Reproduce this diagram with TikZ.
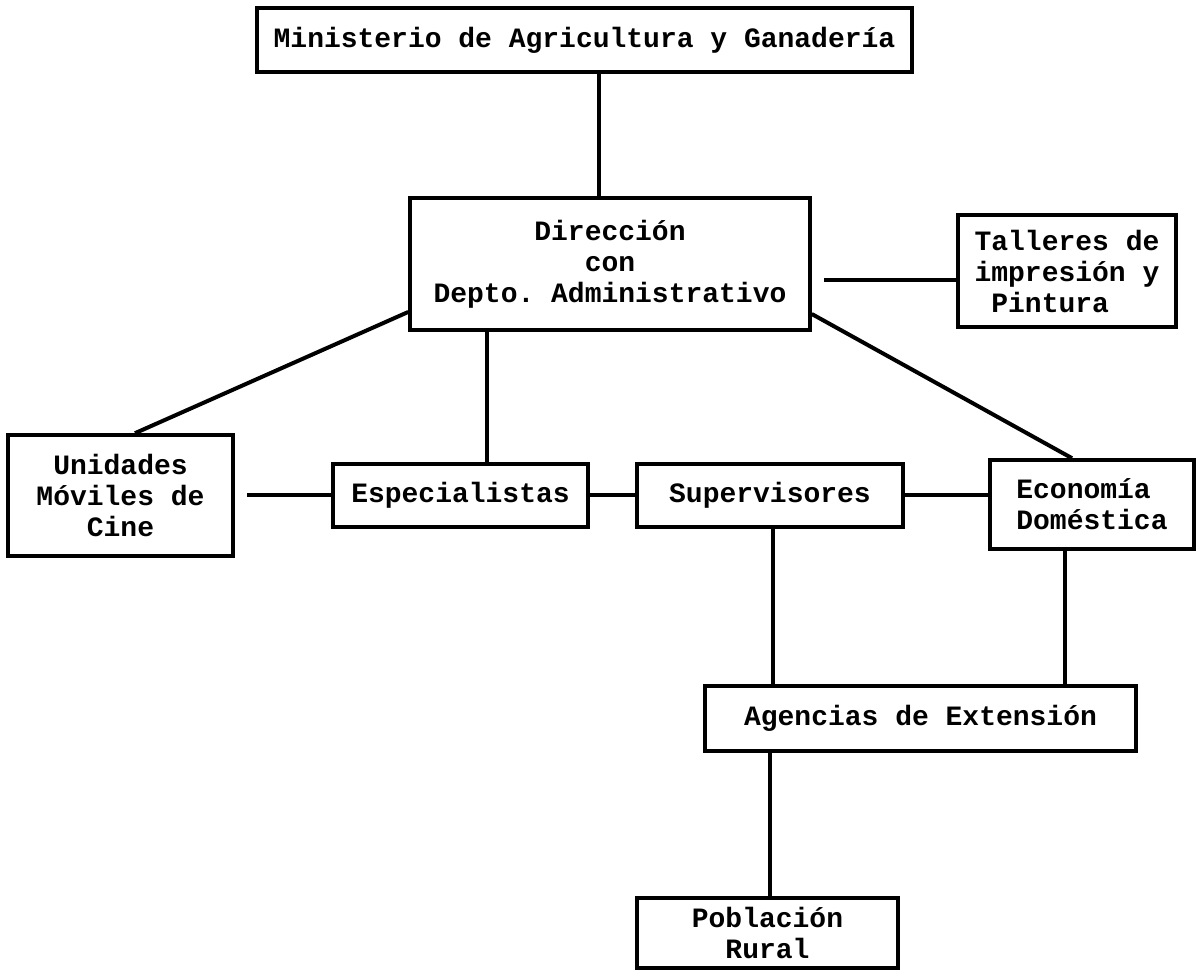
\documentclass[tikz,border=0pt]{standalone}
\usepackage{fontspec}
\setmonofont{Liberation Mono}
\begin{document}
\begin{tikzpicture}[x=0.5pt,y=-0.5pt,
  box/.style={draw,line width=1.8pt,inner sep=0pt,font=\ttfamily\bfseries\fontsize{14}{15.5}\selectfont},
  conn/.style={line width=2pt}]
\useasboundingbox (0,0) rectangle (1196,973);
\node[box,minimum width=327.5pt,minimum height=32pt] (min) at (584.5,40) {Ministerio de Agricultura y Ganadería};
\node[box,minimum width=200pt,minimum height=66pt,align=center] (dir) at (610,264) {Dirección\\con\\Depto. Administrativo};
\node[box,minimum width=109pt,minimum height=56pt,align=left] (tal) at (1067,271) {Talleres de\\impresión y\\\hspace*{0.6em}Pintura};
\node[box,minimum width=112.5pt,minimum height=60.5pt,align=center] (uni) at (120.5,495.5) {Unidades\\Móviles de\\Cine};
\node[box,minimum width=127.5pt,minimum height=31.5pt] (esp) at (460.5,495.5) {Especialistas};
\node[box,minimum width=133pt,minimum height=31.5pt] (sup) at (770,495.5) {Supervisores};
\node[box,minimum width=102pt,minimum height=44.5pt,align=left] (eco) at (1092,504.5) {Economía\\Doméstica};
\node[box,minimum width=215.5pt,minimum height=32.5pt] (age) at (920.5,718.5) {Agencias de Extensión};
\node[box,minimum width=130.5pt,minimum height=35pt,align=center] (pob) at (767.5,933) {Población\\Rural};

\draw[conn] ([xshift=7.25pt]min.south) -- ([xshift=7.25pt]min.south |- dir.north);
\draw[conn] ([xshift=6pt,yshift=-8pt]dir.east) -- ([yshift=-8pt]dir.east -| tal.west);
\draw[conn] ([yshift=-24pt]dir.west) -- ([xshift=7.25pt]uni.north);
\draw[conn] ([xshift=13.25pt]esp.north) -- ([xshift=13.25pt]esp.north |- dir.south);
\draw[conn] ([yshift=-25pt]dir.east) -- ([xshift=-10pt]eco.north);
\draw[conn] ([xshift=6pt]uni.east) -- (esp.west);
\draw[conn] (esp.east) -- (sup.west);
\draw[conn] (sup.east) -- (sup.east -| eco.west);
\draw[conn] ([xshift=1.5pt]sup.south) -- ([xshift=1.5pt]sup.south |- age.north);
\draw[conn] ([xshift=-13.5pt]eco.south) -- ([xshift=-13.5pt]eco.south |- age.north);
\draw[conn] ([xshift=1.25pt]pob.north) -- ([xshift=1.25pt]pob.north |- age.south);
\end{tikzpicture}
\end{document}
